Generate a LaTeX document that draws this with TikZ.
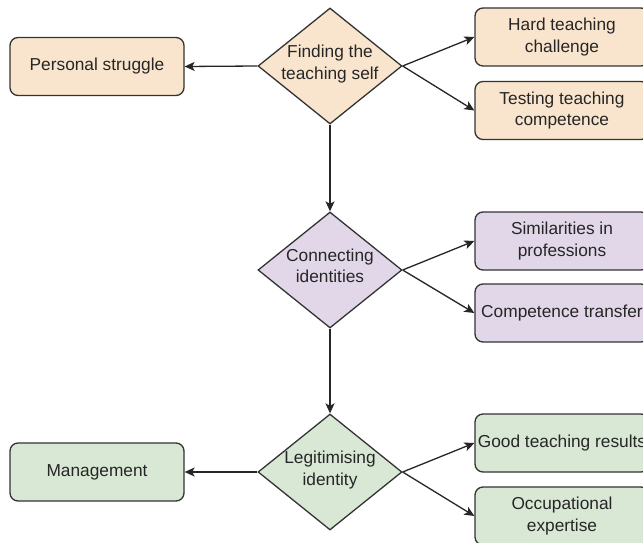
\documentclass[tikz,border=0pt]{standalone}
\usepackage{fontspec}
\setmainfont{Liberation Sans}
\usetikzlibrary{shapes.geometric,arrows.meta}
\definecolor{orfill}{HTML}{F9E5CD}
\definecolor{pufill}{HTML}{E1D7E8}
\definecolor{grfill}{HTML}{D8E8D5}
\definecolor{edge}{HTML}{333333}
\definecolor{txtc}{HTML}{262626}
\tikzset{
  box/.style={draw=edge, line width=1.3pt, rounded corners=8pt, minimum width=174pt, minimum height=58pt, inner sep=0pt},
  dia/.style={draw=edge, line width=1.3pt, shape=diamond, minimum width=144pt, minimum height=116pt, inner sep=0pt},
  lbl/.style={text=txtc, align=center, font=\fontsize{17.3}{21.5}\selectfont, inner sep=0pt},
  arr/.style={draw=black!85, line width=1.3pt, -{Stealth[length=10pt,width=9pt,inset=2.5pt]}}
}
\begin{document}
\begin{tikzpicture}[x=1pt,y=-1pt]
\clip (0,0) rectangle (643,543);
\fill[white] (0,0) rectangle (643,543);
% diamonds
\node[dia, fill=orfill] (d1) at (330,66) {};
\node[dia, fill=pufill] (d2) at (330,270) {};
\node[dia, fill=grfill] (d3) at (330,472) {};
\node[lbl] (t1) at (330,64) {Finding the\\teaching self};
\node[lbl] (t2) at (330,266) {Connecting\\identities};
\node[lbl] (t3) at (330,470) {Legitimising\\identity};
% boxes
\node[box, fill=orfill, lbl] (ps) at (97,66.5) {Personal struggle};
\node[box, fill=orfill, lbl] (hard) at (562,37) {Hard teaching\\challenge};
\node[box, fill=orfill, lbl] (test) at (562,110.5) {Testing teaching\\competence};
\node[box, fill=pufill, lbl] (sim) at (562,241) {Similarities in\\professions};
\node[box, fill=pufill, lbl] (comp) at (562,313) {Competence transfer};
\node[box, fill=grfill, lbl] (good) at (562,443) {Good teaching results};
\node[box, fill=grfill, lbl] (occ) at (562,516) {Occupational\\expertise};
\node[box, fill=grfill, lbl] (mg) at (97,472) {Management};
% connectors
\draw[arr] (d1.west) -- (ps.east);
\draw[arr] (d1.east) -- (hard.west);
\draw[arr] (d1.east) -- (test.west);
\draw[arr] (d1.south) -- (d2.north);
\draw[arr] (d2.east) -- (sim.west);
\draw[arr] (d2.east) -- (comp.west);
\draw[arr] (d2.south) -- (d3.north);
\draw[arr] (d3.west) -- (mg.east);
\draw[arr] (d3.east) -- (good.west);
\draw[arr] (d3.east) -- (occ.west);
\end{tikzpicture}
\end{document}
